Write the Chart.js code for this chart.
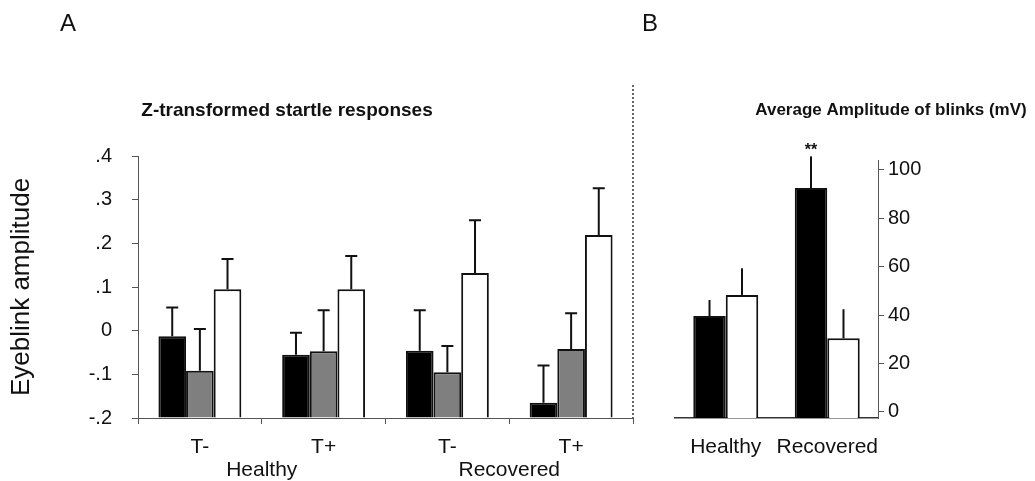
<!DOCTYPE html>
<html>
<head>
<meta charset="utf-8">
<script src="https://cdn.jsdelivr.net/npm/chart.js@4"></script>
<style>
  body { margin: 0; background: #fff; width: 1035px; height: 481px; overflow: hidden; position: relative; }
  #wrapA { position: absolute; left: 0; top: 0; width: 650px; height: 481px; }
  #wrapB { position: absolute; left: 640px; top: 0; width: 395px; height: 481px; }
</style>
</head>
<body>
<div id="wrapA"><canvas id="chartA"></canvas></div>
<div id="wrapB"><canvas id="chartB"></canvas></div>
<script>
// panel A: z-transformed startle responses
const conditionsA = ['T-', 'T+', 'T-', 'T+']
const groupsA = ['Healthy', 'Recovered']
const blackA = [-0.013, -0.055, -0.046, -0.165]
const blackErrA = [0.066, 0.050, 0.093, 0.085]
const grayA = [-0.092, -0.047, -0.095, -0.042]
const grayErrA = [0.096, 0.094, 0.060, 0.082]
const whiteA = [0.095, 0.095, 0.132, 0.219]
const whiteErrA = [0.069, 0.076, 0.121, 0.107]
const ticksA = [-0.2, -0.1, 0, 0.1, 0.2, 0.3, 0.4]
const tickLabelsA = ['-.2', '-.1', '0', '.1', '.2', '.3', '.4']

// panel B: average amplitude of blinks (mV)
const groupsB = ['Healthy', 'Recovered']
const blackB = [39.6, 92.4]
const blackErrB = [6.6, 13.1]
const whiteB = [48.3, 30.4]
const whiteErrB = [11.0, 12.0]
const ticksB = [0, 20, 40, 60, 80, 100]

const FONT = "'Liberation Sans', Arial, sans-serif"
Chart.defaults.font.family = FONT
Chart.defaults.color = '#111'

// error bars, upward only
const errorBars = {
  id: 'errorBars',
  afterDatasetsDraw(chart, args, opts) {
    const ctx = chart.ctx
    const y = chart.scales.y
    ctx.save()
    ctx.strokeStyle = '#111'
    ctx.lineWidth = 2
    chart.data.datasets.forEach((ds, i) => {
      chart.getDatasetMeta(i).data.forEach((bar, j) => {
        const top = y.getPixelForValue(ds.data[j] + ds.err[j])
        ctx.beginPath()
        ctx.moveTo(bar.x, bar.y)
        ctx.lineTo(bar.x, top)
        if (opts.cap) {
          ctx.moveTo(bar.x - opts.cap / 2, top)
          ctx.lineTo(bar.x + opts.cap / 2, top)
        }
        ctx.stroke()
      })
    })
    ctx.restore()
  }
}

const decorA = {
  id: 'decorA',
  afterDraw(chart) {
    const ctx = chart.ctx
    const a = chart.chartArea
    ctx.save()
    ctx.fillStyle = '#111'
    ctx.textBaseline = 'middle'
    ctx.textAlign = 'center'
    ctx.font = '24px ' + FONT
    ctx.fillText('A', 68, 24)
    ctx.font = 'bold 19px ' + FONT
    ctx.fillText('Z-transformed startle responses', 287, 111)
    // dotted separator
    ctx.strokeStyle = '#333'
    ctx.lineWidth = 1.5
    ctx.setLineDash([2, 2])
    ctx.beginPath()
    ctx.moveTo(a.right, 85)
    ctx.lineTo(a.right, a.bottom)
    ctx.stroke()
    ctx.restore()
  }
}

const decorB = {
  id: 'decorB',
  afterDraw(chart) {
    const ctx = chart.ctx
    const y = chart.scales.y
    const bar = chart.getDatasetMeta(0).data[1]
    ctx.save()
    ctx.fillStyle = '#111'
    ctx.textBaseline = 'middle'
    ctx.textAlign = 'center'
    ctx.font = '24px ' + FONT
    ctx.fillText('B', 10, 24)
    ctx.font = 'bold 17px ' + FONT
    ctx.fillText('Average Amplitude of blinks (mV)', 251, 110)
    ctx.font = 'bold 16px ' + FONT
    ctx.fillText('**', bar.x, y.getPixelForValue(blackB[1] + blackErrB[1]) - 6)
    ctx.restore()
  }
}

function barSet(data, err, fill, base) {
  return {
    data: data,
    err: err,
    base: base,
    backgroundColor: fill,
    borderColor: '#111',
    borderWidth: 2
  }
}

new Chart(document.getElementById('chartA'), {
  type: 'bar',
  data: {
    labels: conditionsA,
    datasets: [
      barSet(blackA, blackErrA, '#000', ticksA[0]),
      barSet(grayA, grayErrA, '#7f7f7f', ticksA[0]),
      barSet(whiteA, whiteErrA, '#fff', ticksA[0])
    ]
  },
  options: {
    responsive: true,
    maintainAspectRatio: false,
    animation: false,
    layout: { padding: { top: 156, right: 17, bottom: 0, left: 0 } },
    datasets: { bar: { categoryPercentage: 0.67, barPercentage: 1.0 } },
    plugins: { legend: { display: false }, tooltip: { enabled: false }, errorBars: { cap: 12 } },
    scales: {
      x: {
        grid: { drawOnChartArea: false, tickLength: 6, color: '#555', offset: true },
        border: { color: '#555' },
        ticks: { font: { size: 21 }, padding: 11, color: '#111', maxRotation: 0 },
        afterFit(s) { s.height = 36 }
      },
      x2: {
        type: 'category',
        position: 'bottom',
        labels: groupsA,
        offset: true,
        grid: { display: false, drawTicks: false },
        border: { display: false },
        ticks: { font: { size: 21 }, padding: 4, color: '#111', maxRotation: 0 },
        afterFit(s) { s.height = 27 }
      },
      y: {
        min: ticksA[0],
        max: ticksA[ticksA.length - 1],
        afterBuildTicks(s) { s.ticks = ticksA.map(v => ({ value: v })) },
        grid: { drawOnChartArea: false, tickLength: 6, color: '#555' },
        border: { color: '#555' },
        ticks: {
          font: { size: 20 }, padding: 20, color: '#111',
          callback: (v, i) => tickLabelsA[i]
        },
        title: { display: true, text: 'Eyeblink amplitude', font: { size: 26 }, padding: { top: 6, bottom: 0 }, color: '#111' },
        afterFit(s) { s.width = 138 }
      }
    }
  },
  plugins: [errorBars, decorA]
})

new Chart(document.getElementById('chartB'), {
  type: 'bar',
  data: {
    labels: groupsB,
    datasets: [
      barSet(blackB, blackErrB, '#000', -2.5),
      barSet(whiteB, whiteErrB, '#fff', -2.5)
    ]
  },
  options: {
    responsive: true,
    maintainAspectRatio: false,
    animation: false,
    layout: { padding: { top: 160, right: 97, bottom: 0, left: 35 } },
    datasets: { bar: { categoryPercentage: 0.64, barPercentage: 1.0 } },
    plugins: { legend: { display: false }, tooltip: { enabled: false }, errorBars: { cap: 0 } },
    scales: {
      x: {
        grid: { display: false, drawTicks: false },
        border: { color: '#333', width: 1.5 },
        ticks: { font: { size: 21 }, padding: 17, color: '#111', maxRotation: 0, autoSkip: false },
        afterFit(s) { s.height = 63 }
      },
      y: {
        position: 'right',
        min: -2.5,
        max: 104,
        afterBuildTicks(s) { s.ticks = ticksB.map(v => ({ value: v })) },
        grid: { drawOnChartArea: false, tickLength: 6, color: '#555' },
        border: { color: '#555' },
        ticks: { font: { size: 20 }, padding: 4, color: '#111' },
        afterFit(s) { s.width = 60 }
      }
    }
  },
  plugins: [errorBars, decorB]
})
</script>
</body>
</html>
